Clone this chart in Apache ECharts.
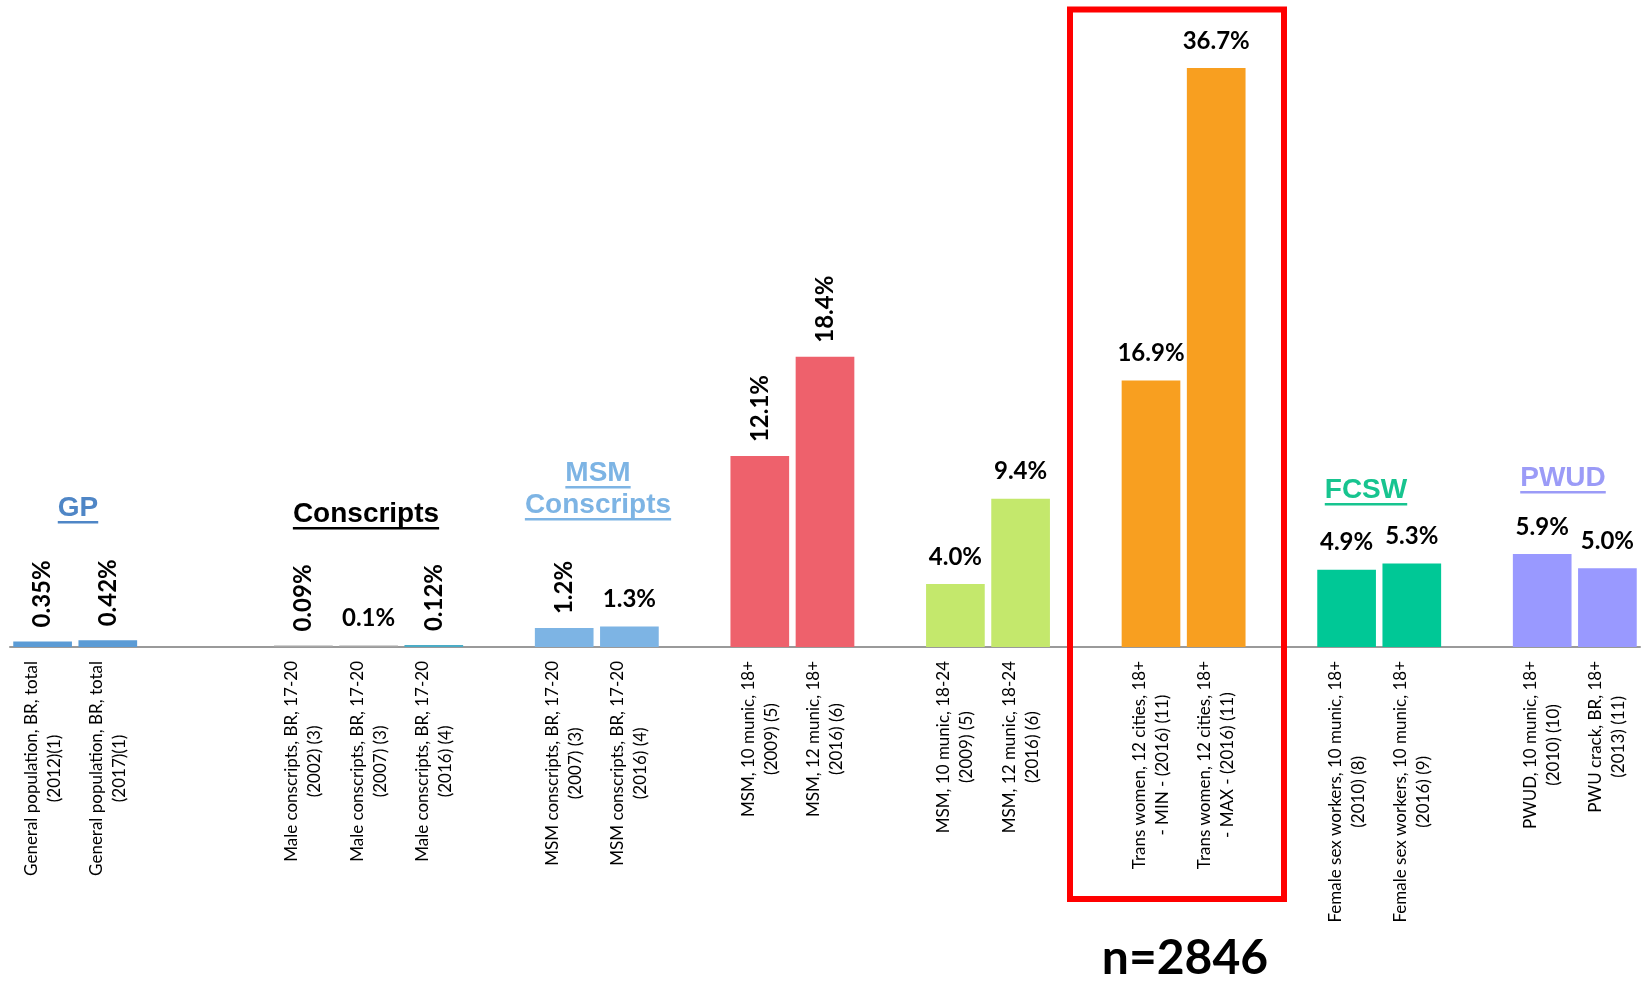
<!DOCTYPE html>
<html><head><meta charset="utf-8">
<script src="https://cdn.jsdelivr.net/npm/echarts@6/dist/echarts.min.js"></script>
<style>html,body{margin:0;padding:0;background:#fff}#c{width:1648px;height:983px}</style>
</head><body><div id="c"></div>
<script>
// ---- data ----
const categories = [
  'General population, BR, total\n(2012)(1)',
  'General population, BR, total\n(2017)(1)',
  '', '',
  'Male conscripts, BR, 17-20\n(2002) (3)',
  'Male conscripts, BR, 17-20\n(2007) (3)',
  'Male conscripts, BR, 17-20\n(2016) (4)',
  '',
  'MSM conscripts, BR, 17-20\n(2007) (3)',
  'MSM conscripts, BR, 17-20\n(2016) (4)',
  '',
  'MSM, 10 munic, 18+\n(2009) (5)',
  'MSM, 12 munic, 18+\n(2016) (6)',
  '',
  'MSM, 10 munic, 18-24\n(2009) (5)',
  'MSM, 12 munic, 18-24\n(2016) (6)',
  '',
  'Trans women, 12 cities, 18+\n- MIN - (2016) (11)',
  'Trans women, 12 cities, 18+\n- MAX - (2016) (11)',
  '',
  'Female sex workers, 10 munic, 18+\n(2010) (8)',
  'Female sex workers, 10 munic, 18+\n(2016) (9)',
  '',
  'PWUD, 10 munic, 18+\n(2010) (10)',
  'PWU crack, BR, 18+\n(2013) (11)'
];
const values = [0.35, 0.42, null, null, 0.09, 0.1, 0.12, null, 1.2, 1.3, null, 12.1, 18.4, null, 4.0, 9.4, null, 16.9, 36.7, null, 4.9, 5.3, null, 5.9, 5.0];
const valueLabels = ['0.35%', '0.42%', '', '', '0.09%', '0.1%', '0.12%', '', '1.2%', '1.3%', '', '12.1%', '18.4%', '', '4.0%', '9.4%', '', '16.9%', '36.7%', '', '4.9%', '5.3%', '', '5.9%', '5.0%'];
const verticalLabel = [true, true, false, false, true, false, true, false, true, false, false, true, true, false, false, false, false, false, false, false, false, false, false, false, false];
const barColors = ['#5B9BD5', '#5B9BD5', '', '', '#A5A5A5', '#A5A5A5', '#4BACC6', '', '#7DB4E4', '#7DB4E4', '', '#EE616C', '#EE616C', '', '#C4E86C', '#C4E86C', '', '#F89F20', '#F89F20', '', '#00C896', '#00C896', '', '#9999FF', '#9999FF'];
const groupTitles = [['GP'], ['Conscripts'], ['MSM', 'Conscripts'], ['FCSW'], ['PWUD']];
const groupTitleColors = ['#4F86C6', '#000000', '#7DB4E4', '#17C48F', '#9B9BF7'];
const sampleNote = 'n=2846';

// ---- layout ----
const titleLayout = [
  {cx: 78, baselines: [518]},
  {cx: 366, baselines: [524]},
  {cx: 598, baselines: [483, 515]},
  {cx: 1366, baselines: [500]},
  {cx: 1563, baselines: [488]}
];
const titleFont = 'bold 28px "Liberation Sans", Arial, sans-serif';
const ctx = document.createElement('canvas').getContext('2d');
function textWidth(t, f) { ctx.font = f; return ctx.measureText(t).width; }

const graphics = [];
groupTitles.forEach((lines, gi) => {
  const lay = titleLayout[gi];
  lines.forEach((line, li) => {
    const b = lay.baselines[li];
    const w = textWidth(line, titleFont);
    graphics.push({type: 'text', z: 100, style: {text: line, x: lay.cx, y: b - 10, font: titleFont, fill: groupTitleColors[gi], align: 'center', verticalAlign: 'middle', textAlign: 'center', textVerticalAlign: 'middle'}});
    graphics.push({type: 'rect', z: 100, shape: {x: lay.cx - w / 2, y: b + 3, width: w, height: 2.5}, style: {fill: groupTitleColors[gi]}});
  });
});
graphics.push({type: 'rect', z: 100, shape: {x: 1070, y: 9.5, width: 214, height: 889.5}, style: {fill: 'none', stroke: '#FF0000', lineWidth: 6}});
graphics.push({type: 'text', z: 100, style: {text: sampleNote, x: 1185, y: 959, font: 'bold 48px Lato, sans-serif', fill: '#000', align: 'center', verticalAlign: 'middle', textAlign: 'center', textVerticalAlign: 'middle'}});

const chart = echarts.init(document.getElementById('c'), null, {renderer: 'canvas'});
chart.setOption({
  animation: false,
  backgroundColor: '#fff',
  grid: {left: 10, right: 8, top: 16, bottom: 336, containLabel: false},
  xAxis: {
    type: 'category',
    data: categories,
    axisTick: {show: false},
    axisLine: {lineStyle: {color: '#9A9A9A', width: 2}},
    axisLabel: {
      interval: 0, rotate: 90, margin: 14,
      formatter: v => v ? v.split('\n').map(s => '{c|' + s + '}').join('\n') : '',
      rich: {c: {align: 'center', fontFamily: 'Lato', fontSize: 17, lineHeight: 23, color: '#000'}}
    }
  },
  yAxis: {type: 'value', min: 0, max: 40, show: false, splitLine: {show: false}},
  series: [{
    type: 'bar',
    barCategoryGap: '10%',
    data: values.map((v, i) => v == null ? '-' : {
      value: v,
      itemStyle: {color: barColors[i]},
      label: verticalLabel[i] ? {rotate: 90, align: 'left', verticalAlign: 'middle', distance: 14} : {distance: 15}
    }),
    label: {
      show: true, position: 'top',
      formatter: p => valueLabels[p.dataIndex],
      fontFamily: 'Lato', fontWeight: 'bold', fontSize: 24, color: '#000'
    }
  }],
  graphic: graphics
});
</script>
</body></html>
